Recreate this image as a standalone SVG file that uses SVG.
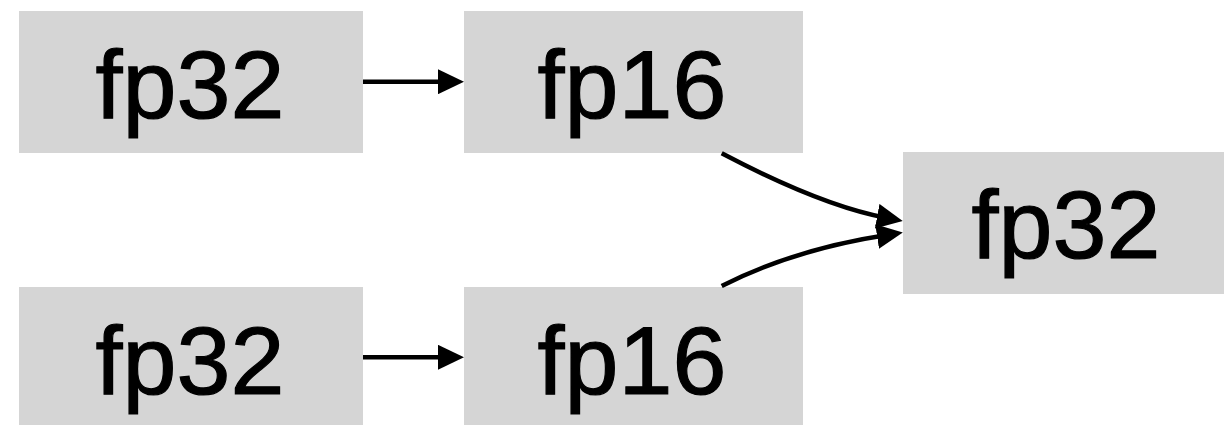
<svg xmlns="http://www.w3.org/2000/svg" width="1226" height="425" viewBox="0 0 1226 425">
  <style>
    .box { fill: #d5d5d5; }
    .label { font-family: "Liberation Sans", Arial, Helvetica, sans-serif; font-size: 97px; fill: #000; stroke: #000; stroke-width: 1.2; text-anchor: middle; }
    .edge { fill: none; stroke: #000; stroke-width: 4.5; }
  </style>
  <defs>
    <marker id="head" markerUnits="userSpaceOnUse" markerWidth="26" markerHeight="25" refX="10" refY="12.5" orient="auto">
      <path d="M0,0 L26,12.5 L0,25 z" fill="#000"/>
    </marker>
  </defs>

  <rect width="1226" height="425" fill="#fff"/>

  <g id="node-a32">
    <rect class="box" x="19" y="11" width="344" height="142"/>
    <text class="label" x="190" y="118">fp32</text>
  </g>
  <g id="node-a16">
    <rect class="box" x="464" y="11" width="339" height="142"/>
    <text class="label" x="632" y="118">fp16</text>
  </g>
  <g id="node-out32">
    <rect class="box" x="903" y="152" width="321" height="142"/>
    <text class="label" x="1066" y="258">fp32</text>
  </g>
  <g id="node-b32">
    <rect class="box" x="19" y="287" width="344" height="138"/>
    <text class="label" x="190" y="394">fp32</text>
  </g>
  <g id="node-b16">
    <rect class="box" x="464" y="287" width="339" height="138"/>
    <text class="label" x="632" y="394">fp16</text>
  </g>

  <g id="connectors">
    <path class="edge" d="M363,81.7 L448,81.7" marker-end="url(#head)"/>
    <path class="edge" d="M363,357.3 L448,357.3" marker-end="url(#head)"/>
    <path class="edge" d="M721.7,153.3 Q822,206 887,218" marker-end="url(#head)"/>
    <path class="edge" d="M721.7,286 Q795,249 887,235" marker-end="url(#head)"/>
  </g>
</svg>
